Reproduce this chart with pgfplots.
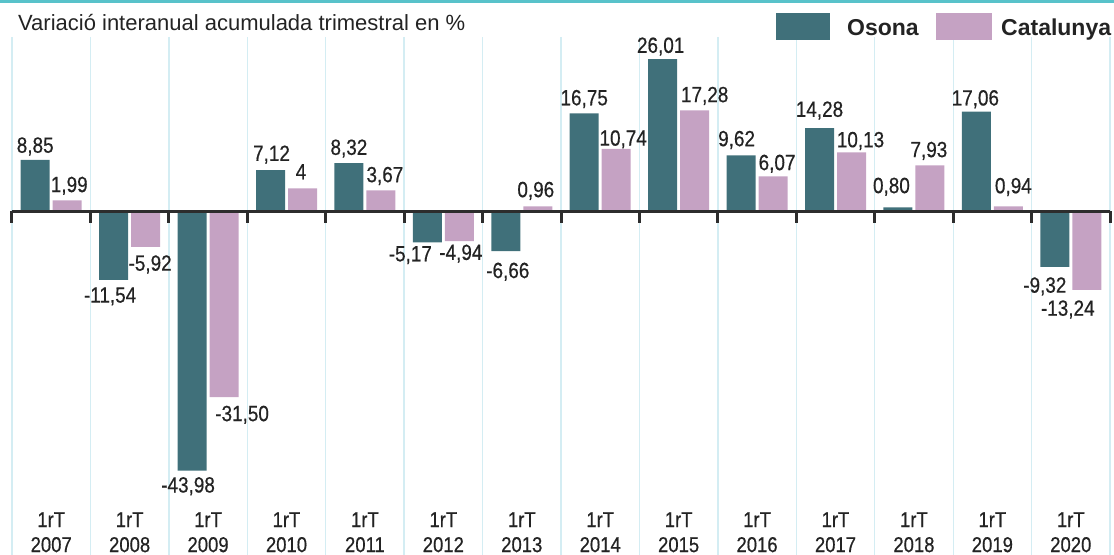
\documentclass[border=0pt]{standalone}
\usepackage{pgfplots}
\usepackage{pgfplotstable}
\pgfplotsset{compat=1.18}
\usepackage{fontspec}
\setmainfont{Liberation Sans}[FakeStretch=0.86, FakeBold=0.5]
\newfontfamily\legfont{Liberation Sans}
\newfontfamily\titlefont{Liberation Sans}
\definecolor{osona}{RGB}{64,112,122}
\definecolor{catal}{RGB}{197,162,195}
\definecolor{gridc}{RGB}{212,237,243}
\definecolor{topc}{RGB}{88,194,202}
\definecolor{zeroc}{RGB}{45,45,45}
\definecolor{txt}{RGB}{35,35,35}

% bar values
\pgfplotstableread{
x y
0 8.85
1 -11.54
2 -43.98
3 7.12
4 8.32
5 -5.17
6 -6.66
7 16.75
8 26.01
9 9.62
10 14.28
11 0.80
12 17.06
13 -9.32
}\osona

\pgfplotstableread{
x y
0 1.99
1 -5.92
2 -31.50
3 4
4 3.67
5 -4.94
6 0.96
7 10.74
8 17.28
9 6.07
10 10.13
11 7.93
12 0.94
13 -13.24
}\catal

% value labels above positive bars (anchor south)
\pgfplotstableread{
lx ly lab
-0.204 10.04 8,85
2.809 8.65 7,12
3.796 9.68 8,32
6.796 18.11 16,75
7.771 27.03 26,01
8.739 11.15 9,62
9.796 16.15 14,28
10.713 3.18 0,80
11.783 18.08 17,06
0.230 3.35 1,99
3.185 5.53 4
4.255 5.03 3,67
6.179 2.49 0,96
7.293 11.25 10,74
8.332 18.64 17,28
9.255 7.09 6,07
10.319 10.98 10,13
11.191 9.29 7,93
12.268 3.15 0,94
}\labpos

% value labels below negative bars (anchor north)
\pgfplotstableread{
lx ly lab
0.751 -12.70 -11,54
1.745 -45.00 -43,98
4.579 -5.68 -5,17
5.822 -8.53 -6,66
12.669 -11.02 -9,32
1.261 -7.28 -5,92
2.434 -32.86 -31,50
5.223 -5.45 -4,94
12.962 -14.94 -13,24
}\labneg

\pgfplotsset{
  lblbase/.style={
    draw=none, mark=none,
    point meta=explicit symbolic,
    nodes near coords,
    every node near coord/.append style={inner sep=0pt, text height=15.7pt, text depth=0pt,
       font=\fontsize{22}{25}\selectfont, text=txt},
  }
}

\begin{document}
\begin{tikzpicture}
\begin{axis}[
  width=1114pt, height=555pt, scale only axis,
  xmin=-0.653, xmax=13.551,
  ymin=-58.33, ymax=36.05,
  clip=false,
  axis line style={draw=none},
  tick style={draw=none},
  ytick=\empty,
  xtick={0,...,13},
  xticklabels={{1rT\\2007},{1rT\\2008},{1rT\\2009},{1rT\\2010},{1rT\\2011},{1rT\\2012},{1rT\\2013},{1rT\\2014},{1rT\\2015},{1rT\\2016},{1rT\\2017},{1rT\\2018},{1rT\\2019},{1rT\\2020}},
  xticklabel style={align=center, anchor=south, yshift=2.5pt, inner sep=0pt,
     font=\fontsize{21.5}{25}\selectfont, text=txt},
]
\pgfplotsinvokeforeach{-0.5,0.5,...,13.5}{
  \draw[gridc, line width=1.3pt] (axis cs:#1,29.76) -- (axis cs:#1,-58.33);
}
\addplot[ybar, bar width=29pt, draw=none, fill=osona, bar shift=-16pt] table[x=x, y=y] {\osona};
\addplot[ybar, bar width=29pt, draw=none, fill=catal, bar shift=16pt] table[x=x, y=y] {\catal};
\draw[zeroc, line width=3pt] (axis cs:-0.5,0) -- (axis cs:13.5,0);
\pgfplotsinvokeforeach{-0.5,0.5,...,13.5}{
  \draw[zeroc, line width=3pt] (axis cs:#1,0.2) -- (axis cs:#1,-1.87);
}
\addplot[lblbase, every node near coord/.append style={anchor=south}] table[x=lx, y=ly, meta=lab] {\labpos};
\addplot[lblbase, every node near coord/.append style={anchor=north}] table[x=lx, y=ly, meta=lab] {\labneg};
\end{axis}
\fill[topc] ([shift={(0pt,552pt)}]current axis.south west) rectangle ([shift={(1114pt,555pt)}]current axis.south west);
\node[anchor=base west, inner sep=0pt, font=\titlefont\fontsize{22}{26}\selectfont, text=txt]
  at ([shift={(18pt,524pt)}]current axis.south west) {Variació interanual acumulada trimestral en \%};
\fill[osona] ([shift={(776pt,515pt)}]current axis.south west) rectangle ([shift={(830pt,542pt)}]current axis.south west);
\fill[catal] ([shift={(936pt,515pt)}]current axis.south west) rectangle ([shift={(992pt,542pt)}]current axis.south west);
\node[anchor=base west, inner sep=0pt, font=\legfont\bfseries\fontsize{23}{26}\selectfont, text=txt]
  at ([shift={(847pt,519pt)}]current axis.south west) {Osona};
\node[anchor=base west, inner sep=0pt, font=\legfont\bfseries\fontsize{23}{26}\selectfont, text=txt]
  at ([shift={(1001pt,519pt)}]current axis.south west) {Catalunya};
\pgfresetboundingbox
\path[use as bounding box] (current axis.south west) rectangle (current axis.north east);
\end{tikzpicture}
\end{document}
